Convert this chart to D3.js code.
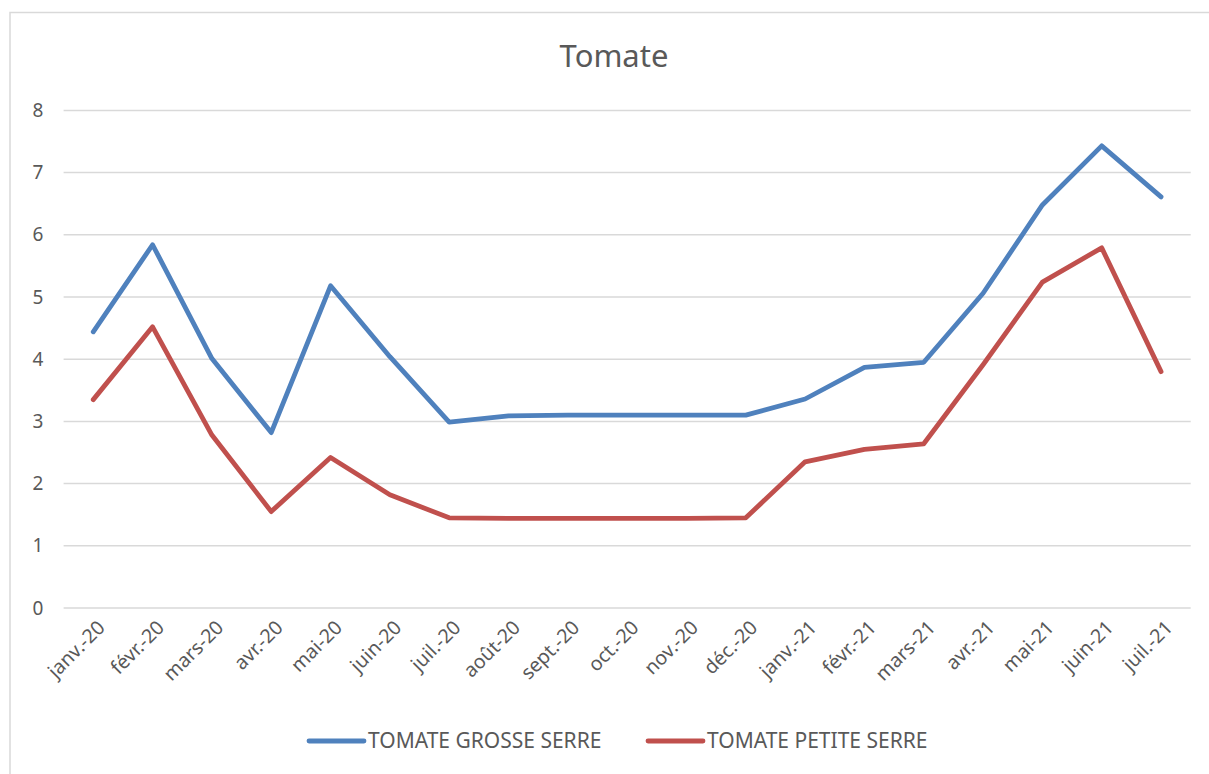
<!DOCTYPE html>
<html>
<head>
<meta charset="utf-8">
<script src="https://cdn.jsdelivr.net/npm/d3@7"></script>
<style>
  body { margin: 0; background: #fff; }
  #chart { width: 1209px; height: 774px; }
  text { font-family: "Noto Sans", "Open Sans", sans-serif; fill: #595959; }
</style>
</head>
<body>
<div id="chart"></div>
<script>
// mois (axe des x)
const months = ["janv.-20", "févr.-20", "mars-20", "avr.-20", "mai-20", "juin-20", "juil.-20",
  "août-20", "sept.-20", "oct.-20", "nov.-20", "déc.-20", "janv.-21", "févr.-21", "mars-21",
  "avr.-21", "mai-21", "juin-21", "juil.-21"];

const grosseSerre = [4.44, 5.84, 4.01, 2.82, 5.18, 4.04, 2.99, 3.09, 3.10, 3.10, 3.10, 3.10,
  3.36, 3.87, 3.95, 5.06, 6.48, 7.43, 6.61];
const petiteSerre = [3.35, 4.52, 2.78, 1.55, 2.42, 1.82, 1.45, 1.44, 1.44, 1.44, 1.44, 1.45,
  2.35, 2.55, 2.64, 3.91, 5.24, 5.79, 3.80];

const yTicks = [0, 1, 2, 3, 4, 5, 6, 7, 8];

const seriesList = [
  { name: "TOMATE GROSSE SERRE", values: grosseSerre, color: "#4F81BD" },
  { name: "TOMATE PETITE SERRE", values: petiteSerre, color: "#C0504D" }
];

const width = 1209, height = 774;
const svg = d3.select("#chart").append("svg")
  .attr("width", width)
  .attr("height", height);

// cadre du graphique
svg.append("rect")
  .attr("x", 10).attr("y", 12.5)
  .attr("width", width).attr("height", height)
  .attr("fill", "none")
  .attr("stroke", "#d9d9d9")
  .attr("stroke-width", 1.5);

// titre
svg.append("text")
  .attr("x", 614)
  .attr("y", 67)
  .attr("text-anchor", "middle")
  .style("font-size", "31px")
  .text("Tomate");

const plot = { left: 63.6, right: 1190.7, top: 110.4, bottom: 608 };

const x = d3.scalePoint()
  .domain(months)
  .range([plot.left, plot.right])
  .padding(0.5);

const y = d3.scaleLinear()
  .domain([0, 8])
  .range([plot.bottom, plot.top]);

// grille horizontale
svg.append("g")
  .selectAll("line")
  .data(yTicks)
  .enter().append("line")
  .attr("x1", plot.left)
  .attr("x2", plot.right)
  .attr("y1", d => y(d))
  .attr("y2", d => y(d))
  .attr("stroke", "#d9d9d9")
  .attr("stroke-width", 1.5);

// étiquettes y
svg.append("g")
  .selectAll("text")
  .data(yTicks)
  .enter().append("text")
  .attr("x", 38)
  .attr("y", d => y(d))
  .attr("dy", "0.35em")
  .attr("text-anchor", "middle")
  .style("font-size", "19px")
  .text(d => d);

// étiquettes x, tournées à -45°
svg.append("g")
  .selectAll("text")
  .data(months)
  .enter().append("text")
  .attr("transform", d => `translate(${x(d) + 8},${plot.bottom + 16}) rotate(-45)`)
  .attr("text-anchor", "end")
  .attr("dy", "0.35em")
  .style("font-size", "19.5px")
  .text(d => d);

// courbes
const line = d3.line()
  .x((d, i) => x(months[i]))
  .y(d => y(d));

svg.append("g")
  .selectAll("path")
  .data(seriesList)
  .enter().append("path")
  .attr("d", d => line(d.values))
  .attr("fill", "none")
  .attr("stroke", d => d.color)
  .attr("stroke-width", 4.8)
  .attr("stroke-linejoin", "round")
  .attr("stroke-linecap", "round");

// légende
const legendX = [309, 648];
const legend = svg.append("g")
  .selectAll("g")
  .data(seriesList)
  .enter().append("g")
  .attr("transform", (d, i) => `translate(${legendX[i]}, 741)`);

legend.append("line")
  .attr("x1", 0).attr("x2", 55)
  .attr("stroke", d => d.color)
  .attr("stroke-width", 4.8)
  .attr("stroke-linecap", "round");

legend.append("text")
  .attr("x", 59)
  .attr("dy", "0.35em")
  .style("font-size", "21px")
  .text(d => d.name);
</script>
</body>
</html>
